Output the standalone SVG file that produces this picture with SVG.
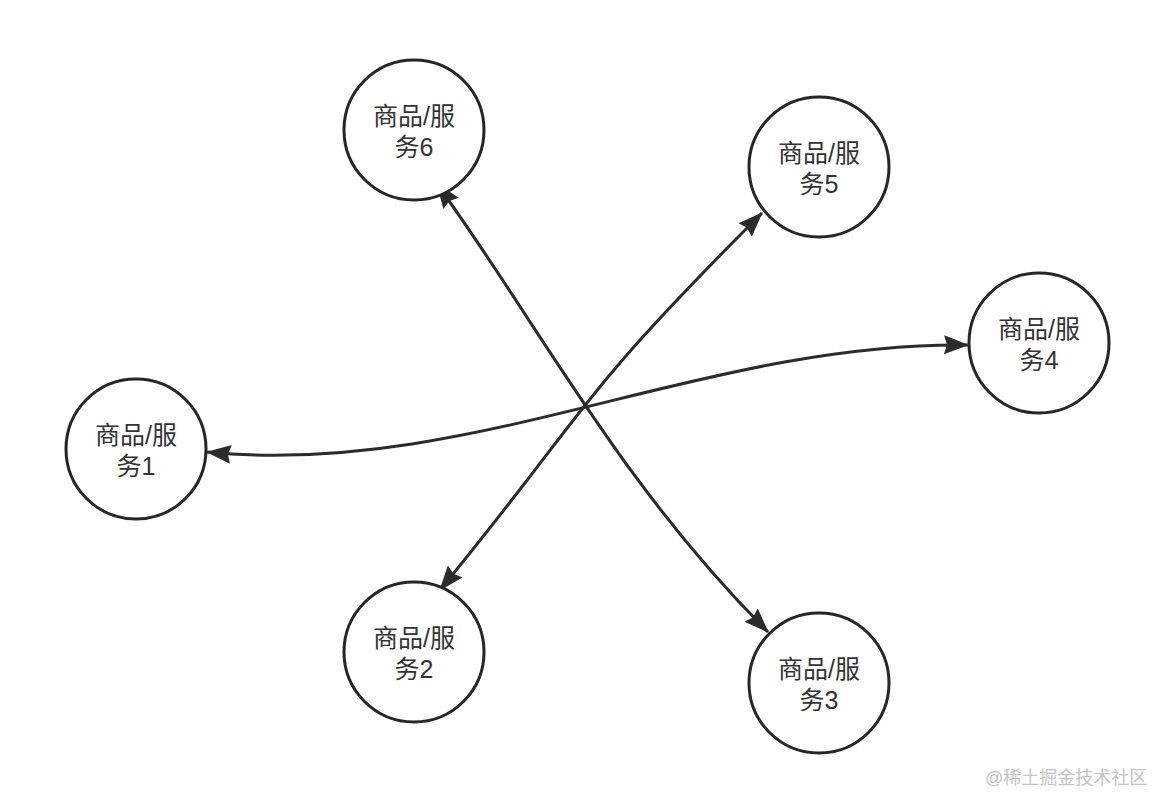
<svg xmlns="http://www.w3.org/2000/svg" width="1168" height="810" viewBox="0 0 1168 810">
<style>
.node circle{fill:#ffffff;stroke:#262626;stroke-width:3}
.node text{font-family:"Liberation Sans","Noto Sans CJK SC",sans-serif;font-size:25px;fill:#333333;text-anchor:middle}
.edge{fill:none;stroke:#2b2b2b;stroke-width:3;marker-start:url(#arr);marker-end:url(#arr)}
.wm{font-family:"Liberation Sans","Noto Sans CJK SC",sans-serif;font-size:18px;fill:#c4c4c4}
</style>
<defs>
<marker id="arr" markerUnits="userSpaceOnUse" markerWidth="25" markerHeight="19" viewBox="0 0 25 19" refX="24" refY="9.5" orient="auto-start-reverse">
<path d="M0,0 L25,9.5 L0,19 L3,9.5 z" fill="#2b2b2b"/>
</marker>
</defs>
<rect width="1168" height="810" fill="#ffffff"/>
<g id="connectors">
<path class="edge" d="M437,184 C538.8,324.5 619.5,483.5 768,632"/>
<path class="edge" d="M762,213 C567.8,407.2 591.5,405.2 440,590"/>
<path class="edge" d="M207,452 C470,478 700,342 968,345"/>
</g>
<g id="node6" class="node"><circle cx="414" cy="130" r="70"/><text x="414" y="125">商品/服<tspan x="414" dy="31">务6</tspan></text></g>
<g id="node5" class="node"><circle cx="819" cy="167" r="70"/><text x="819" y="162">商品/服<tspan x="819" dy="31">务5</tspan></text></g>
<g id="node4" class="node"><circle cx="1039" cy="343" r="70"/><text x="1039" y="338">商品/服<tspan x="1039" dy="31">务4</tspan></text></g>
<g id="node1" class="node"><circle cx="136" cy="449" r="70"/><text x="136" y="444">商品/服<tspan x="136" dy="31">务1</tspan></text></g>
<g id="node2" class="node"><circle cx="414" cy="652" r="70"/><text x="414" y="647">商品/服<tspan x="414" dy="31">务2</tspan></text></g>
<g id="node3" class="node"><circle cx="819" cy="683" r="70"/><text x="819" y="678">商品/服<tspan x="819" dy="31">务3</tspan></text></g>
<text class="wm" x="985" y="784">@稀土掘金技术社区</text>
</svg>
